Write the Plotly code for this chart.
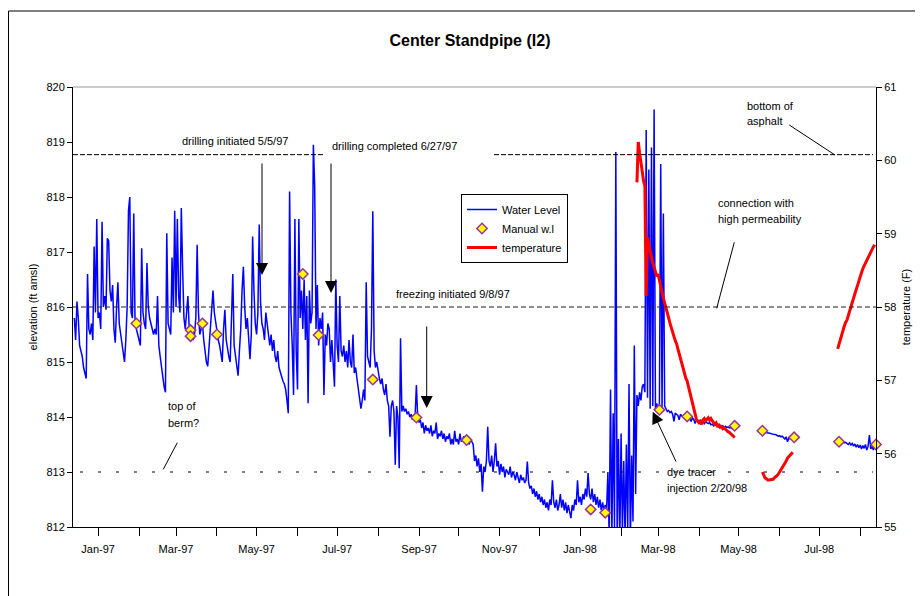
import pandas as pd
import plotly.graph_objects as go

# daily water level from 14 Dec 1996, ft amsl (None = no record)
wl_start = "1996-12-14"
water_level = [
    # Dec-96
    815.8, 815.4, 816.1, 815.8, 815.3, 815.2, 815.1, 814.9, 814.8, 814.7, 816.6, 815.6, 815.5, 815.7, 815.4, 817.1, 815.9, 817.6,
    # Jan-97
    815.8, 815.9, 815.6, 817.55, 816.0, 816.2, 815.95, 817.25, 817.2, 816.3, 816.1, 816.4, 815.6, 815.35, 816.0, 816.45,
    815.7, 815.5, 815.3, 815.1, 815.0, 815.4, 816.0, 817.75, 818.0, 815.9, 815.8, 817.7, 815.7, 815.6, 815.5,
    # Feb-97
    815.4, 815.3, 817.07, 815.9, 815.7, 815.6, 816.8, 816.0, 815.8, 815.7, 815.6, 815.5, 815.6, 815.5, 816.2, 815.3,
    815.1, 814.9, 814.7, 814.55, 814.45, 817.34, 815.7, 815.6, 815.5, 816.9, 815.9, 817.75,
    # Mar-97
    816.0, 817.6, 816.2, 815.9, 817.8, 816.7, 815.8, 815.6, 815.9, 816.2, 815.6, 815.5, 815.5, 815.4, 815.5, 815.8,
    817.13, 815.9, 815.5, 815.6, 815.7, 815.4, 815.2, 815.0, 814.92, 815.3, 815.6, 816.0, 816.3, 815.9, 815.7,
    # Apr-97
    815.6, 815.4, 815.3, 815.1, 815.0, 815.6, 815.95, 815.4, 815.2, 815.1, 815.0, 815.8, 816.6, 815.3, 815.1, 814.9,
    814.75, 815.2, 815.6, 816.3, 816.73, 816.0, 815.6, 815.8, 815.4, 815.05, 815.5, 817.28, 816.3, 815.7,
    # May-97
    815.5, 815.9, 817.5, 816.1, 815.7, 815.6, 815.4, 815.9, 815.7, 815.5, 815.3, 815.5, 815.2, 815.4, 815.1, 815.0,
    815.2, 814.9, 814.8, 814.7, 814.65, 814.6, 814.5, 814.3, 814.07, 818.1, 815.9, 815.3, 814.4, 817.6, 815.2,
    # Jun-97
    814.5, 817.6, 815.8, 816.3, 815.6, 816.5, 815.4, 816.2, 814.25, 816.3, 815.7, 815.9, 818.95, 818.2, 815.6, 816.4,
    815.3, 815.8, 815.6, 815.9, 814.4, 815.5, 815.3, 815.7, 815.6, 815.0, 815.4, 814.9, 814.55, 816.5,
    # Jul-97
    815.3, 815.0, 816.2, 815.2, 815.1, 815.3, 815.0, 815.2, 814.9, 815.4, 815.0, 814.9, 815.5, 814.8, 814.9, 814.7,
    814.5, 814.4, 814.15, 814.3, 814.5, 814.3, 816.45, 815.1, 815.0, 814.9, 815.6, 817.74, 815.2, 814.9, 815.0,
    # Aug-97
    814.8, 814.7, 814.6, 814.7, 814.5, 814.4, 814.6, 814.3, 814.2, 813.64, 814.2, 814.3, 814.1, 813.13, 814.2, 814.0,
    813.07, 815.43, 814.1, 814.2, 814.1, 814.15, 814.05, 814.1, 814.0, 814.05, 813.95, 814.0, 814.0, 814.58, 814.0,
    # Sep-97
    813.9, 813.95, 813.8, 813.9, 813.7, 813.85, 813.75, 813.8, 813.7, 813.85, 813.65, 813.75, 813.7, 813.9, 813.6, 813.7,
    813.65, 813.75, 813.6, 813.7, 813.55, 813.65, 813.6, 813.7, 813.5, 813.6, 813.5, 813.75, 813.55, 813.6,
    # Oct-97
    813.5, 813.7, 813.55, 813.6, 813.65, 813.55, 813.6, 813.65, 813.5, 813.6, 813.55, 813.5, 813.2, 813.3, 813.1, 813.25,
    813.0, 813.15, 812.64, 813.1, 813.0, 813.2, 813.82, 813.2, 813.1, 813.3, 813.0, 813.2, 813.52, 813.1, 813.2,
    # Nov-97
    812.95, 813.15, 813.0, 813.1, 812.9, 813.05, 813.0, 812.95, 813.1, 812.9, 813.0, 812.95, 812.85, 813.0, 812.9, 812.8,
    812.95, 812.85, 812.9, 812.8, 812.85, 813.19, 812.8, 812.7, 812.75, 812.6, 812.7, 812.55, 812.65, 812.5,
    # Dec-97
    812.6, 812.45, 812.55, 812.4, 812.5, 812.35, 812.45, 812.3, 812.5, 812.4, 812.85, 812.45, 812.35, 812.5, 812.3, 812.4,
    812.6, 812.35, 812.5, 812.3, 812.45, 812.25, 812.4, 812.3, 812.16, 812.4, 812.3, 812.5, 812.4, 812.85, 812.45,
    # Jan-98
    812.55, 812.4, 812.6, 812.5, 812.7, 812.55, 812.98, 812.6, 812.5, 812.7, 812.45, 812.6, 812.4, 812.55, 812.35, 812.5,
    812.3, 812.45, 812.3, 812.4, 812.3, 813.0, 811.8, 814.5, 811.8, 814.07, 812.0, 818.82, 811.8, 813.6, 811.7,
    # Feb-98
    813.7, 811.9, 813.2, 811.8, 813.5, 811.9, 814.6, 811.7, 813.3, 812.1, 815.3, 812.6, 814.4, 814.2, 814.45, 814.3,
    814.55, 814.6, 814.45, 819.22, 814.35, 818.5, 814.15, 818.9, 814.2, 819.59, 814.15, 814.25,
    # Mar-98
    814.1, 814.2, 818.6, 814.15, 817.7, 814.2, 814.15, 814.1, 814.12, 814.08, 814.1, 814.05, 813.92, 814.07, 814.05, 814.03,
    813.95, 814.05, 814.02, 814.0, 814.03, 813.98, 814.0, 814.0, 813.97, 813.92, 813.98, 813.96, 813.88, 813.95, 813.93,
    # Apr-98
    813.94, 813.92, 813.9, 813.93, 813.88, 813.91, 813.9, 813.88, 813.9, 813.86, 813.87, 813.84, 813.87, 813.85, 813.86, 813.82,
    813.85, 813.83, 813.84, 813.8, 813.83, 813.81, 813.82, 813.8, 813.81, 813.79, 813.8, 813.82, None, None,
    # May-98
    None, None, None, None, None, None, None, None, None, None, None, None, None, None, None, None, None, None,
    813.74, 813.73, 813.73, 813.72, 813.71, 813.71, 813.7, 813.69, 813.69, 813.68, 813.68, 813.67, 813.65,
    # Jun-98
    813.66, 813.64, 813.65, 813.63, 813.6, 813.64, 813.55, 813.62, 813.6,
    None, None, None, None, None, None, None, None, None, None, None, None, None, None, None, None, None, None, None, None, None,
    # Jul-98
    None, None, None, None, None, None, None, None, None, None, None, None, None, None, None,
    813.56, 813.55, 813.54, 813.55, 813.53, 813.54, 813.52, 813.5, 813.53, 813.49, 813.52, 813.47, 813.51, 813.45, 813.5, 813.44,
    # Aug-98
    813.49, 813.42, 813.48, 813.43, 813.5, 813.4, 813.47, 813.67, 813.42, 813.46, 813.4, 813.48,
]

# manual water level readings
manual_dates = [
    "1997-01-30", "1997-03-12", "1997-03-12", "1997-03-21", "1997-04-01", "1997-06-05", "1997-06-17",
    "1997-07-28", "1997-08-30", "1997-10-07", "1998-01-09", "1998-01-20", "1998-03-02", "1998-03-23",
    "1998-04-28", "1998-05-19", "1998-06-12", "1998-07-16", "1998-08-13",
]
manual_wl = [
    815.70, 815.58, 815.47, 815.70, 815.50, 816.60, 815.49,
    814.68, 813.99, 813.58, 812.32, 812.26, 814.13, 814.01,
    813.84, 813.75, 813.63, 813.55, 813.50,
]

# daily temperature from 13 Feb 1998, deg F
temp_start = "1998-02-13"
temperature = [
    59.7, 60.25, 60.1, 60.0, 59.85, 59.72, 59.65, 58.15, 58.95, 58.85,
    58.74, 58.68, 58.6, 58.55, 58.48, 58.42, 58.45, 58.35, 58.25, 58.2,
    58.12, 58.06, 58.0, 57.92, 57.85, 57.78, 57.73, 57.66, 57.6, 57.54,
    57.5, 57.43, 57.36, 57.3, 57.22, 57.15, 57.08, 57.03, 56.99, 56.92,
    56.85, 56.77, 56.7, 56.62, 56.53, 56.47, 56.44, 56.42, 56.44, 56.4,
    56.46, 56.48, 56.45, 56.47, 56.49, 56.46, 56.48, 56.45, 56.43, 56.4,
    56.42, 56.38, 56.39, 56.36, 56.37, 56.34, 56.35, 56.33, 56.32, 56.3,
    56.29, 56.27, 56.26, 56.24, 56.22,
    None, None, None, None, None, None, None, None, None, None,
    None, None, None, None, None, None, None, None, None, None,
    55.75, 55.7, 55.67, 55.66, 55.64, 55.64, 55.64, 55.65, 55.65, 55.67, 55.68, 55.7,
    55.72, 55.75, 55.78, 55.8, 55.84, 55.87, 55.9, 55.94, 55.96, 55.98, 56.0, 56.02,
    None, None, None, None, None, None, None, None, None, None, None,
    None, None, None, None, None, None, None, None, None, None, None,
    None, None, None, None, None, None, None, None, None, None, None,
    57.43, 57.5, 57.55, 57.62, 57.68, 57.74, 57.79, 57.82, 57.88, 57.95,
    58.0, 58.06, 58.12, 58.18, 58.25, 58.3, 58.35, 58.41, 58.48, 58.52,
    58.56, 58.6, 58.64, 58.68, 58.72, 58.76, 58.79, 58.82, 58.85,
]

FONT = "Liberation Sans, Arial, sans-serif"

# the page body adds an 8px margin, so the figure is drawn 8px smaller
# and the plot area lands on screen at x 73..876, y 87..527
def px(x):
    return (x - 73) / 803

def py(y):
    return (527 - y) / 440


wl_dates = pd.date_range(wl_start, periods=len(water_level), freq="D")
temp_dates = pd.date_range(temp_start, periods=len(temperature), freq="D")

fig = go.Figure()
fig.add_trace(go.Scatter(
    x=wl_dates, y=water_level, mode="lines", name="Water Level",
    line=dict(color="#0000FF", width=1.5), legendrank=1
))
fig.add_trace(go.Scatter(
    x=temp_dates, y=temperature, mode="lines", name="temperature", yaxis="y2",
    line=dict(color="#FF0000", width=3), legendrank=3
))
fig.add_trace(go.Scatter(
    x=pd.to_datetime(manual_dates), y=manual_wl, mode="markers", name="Manual w.l",
    marker=dict(symbol="diamond", size=8, color="#FFFF00", line=dict(color="#993399", width=1.5)),
    cliponaxis=False, legendrank=2
))

axis_font = dict(family=FONT, size=11, color="black")

fig.update_layout(
    width=915, height=588,
    margin=dict(l=65, r=47, t=79, b=69, autoexpand=False),
    paper_bgcolor="white", plot_bgcolor="white",
    font=axis_font,
    title=dict(text="<b>Center Standpipe (I2)</b>", x=462 / 915, xanchor="center",
               y=1 - 32 / 588, yanchor="middle", font=dict(family=FONT, size=16, color="black")),
    xaxis=dict(
        type="date", range=["1996-12-13", "1998-08-13"],
        showline=True, linecolor="black", linewidth=1, showgrid=False, zeroline=False,
        ticks="outside", ticklen=8, tickcolor="black",
        dtick="M2", tick0="1997-01-01", tickformat="%b-%y", ticklabelstandoff=4,
        minor=dict(ticks="outside", ticklen=8, tickcolor="black", dtick="M1", tick0="1997-01-01", showgrid=False),
        tickfont=axis_font, automargin=False,
    ),
    yaxis=dict(
        range=[812, 820], dtick=1, showline=True, linecolor="black", linewidth=1,
        showgrid=False, zeroline=False, ticks="outside", ticklen=5, tickcolor="black",
        tickfont=axis_font, automargin=False,
        title=dict(text="elevation (ft amsl)", font=axis_font, standoff=6),
    ),
    yaxis2=dict(
        range=[55, 61], dtick=1, overlaying="y", side="right", showline=True, linecolor="black",
        linewidth=1, showgrid=False, zeroline=False, ticks="outside", ticklen=5, tickcolor="black",
        tickfont=axis_font, automargin=False,
        title=dict(text="temperature (F)", font=axis_font, standoff=6),
    ),
    legend=dict(
        x=px(461), y=py(194), xanchor="left", yanchor="top",
        bordercolor="black", borderwidth=1, bgcolor="white",
        font=dict(family=FONT, size=11, color="black"), itemwidth=30, tracegroupgap=0,
    ),
    showlegend=True,
)

shapes = [
    # chart frame (left and top edges) and grey top edge of the plot area
    dict(type="line", xref="paper", yref="paper", x0=px(8.5), x1=px(8.5), y0=py(11), y1=py(600),
         line=dict(color="black", width=1)),
    dict(type="line", xref="paper", yref="paper", x0=px(8.5), x1=px(930), y0=py(11), y1=py(11),
         line=dict(color="black", width=1)),
    dict(type="line", xref="paper", yref="paper", x0=0, x1=1, y0=1, y1=1,
         line=dict(color="#999999", width=1)),
    # reference levels
    dict(type="line", xref="paper", yref="y", x0=0, x1=px(325), y0=818.77, y1=818.77,
         line=dict(color="black", width=1, dash="5px,2px")),
    dict(type="line", xref="paper", yref="y", x0=px(494), x1=px(873), y0=818.77, y1=818.77,
         line=dict(color="black", width=1, dash="5px,2px")),
    dict(type="line", xref="paper", yref="y", x0=0, x1=1, y0=816, y1=816,
         line=dict(color="#222222", width=1.2, dash="5px,3px")),
    dict(type="line", xref="paper", yref="y", x0=px(80), x1=px(873), y0=813, y1=813,
         line=dict(color="black", width=1, dash="3px,15px")),
    # callout lines
    dict(type="line", xref="paper", yref="paper", x0=px(177.3), y0=py(442.7), x1=px(163.3), y1=py(469.3),
         line=dict(color="black", width=1)),
    dict(type="line", xref="paper", yref="paper", x0=px(734.3), y0=py(242.3), x1=px(716.7), y1=py(308.3),
         line=dict(color="black", width=1)),
    dict(type="line", xref="paper", yref="paper", x0=px(789.3), y0=py(125), x1=px(835), y1=py(155),
         line=dict(color="black", width=1)),
]
fig.update_layout(shapes=shapes)

labels = [
    ("drilling initiated 5/5/97", 180, 141),
    ("drilling completed 6/27/97", 330, 146),
    ("freezing initiated 9/8/97", 394, 294),
    ("top of", 166, 406),
    ("berm?", 166, 422.7),
    ("dye tracer", 665, 472),
    ("injection 2/20/98", 665, 487.5),
    ("connection with", 716, 202.5),
    ("high permeability", 716, 218.5),
    ("bottom of", 745, 106),
    ("asphalt", 745, 121),
]
for text, x, y in labels:
    fig.add_annotation(text=text, xref="paper", yref="paper", x=px(x), y=py(y),
                       xanchor="left", yanchor="middle", showarrow=False,
                       font=dict(family=FONT, size=11, color="black"))

# arrows: (tip x, tip y, tail x, tail y) in screen pixels
arrows = [
    (262, 275, 262, 162),
    (331, 293, 331, 162),
    (426.7, 408, 426.7, 325),
    (652.7, 411.7, 676.7, 463),
]
for x, y, tx, ty in arrows:
    fig.add_annotation(text="", xref="paper", yref="paper", x=px(x), y=py(y),
                       ax=tx - x, ay=ty - y, showarrow=True,
                       arrowhead=2, arrowsize=2.4, arrowwidth=1, arrowcolor="black")

fig.write_html("out.html")
